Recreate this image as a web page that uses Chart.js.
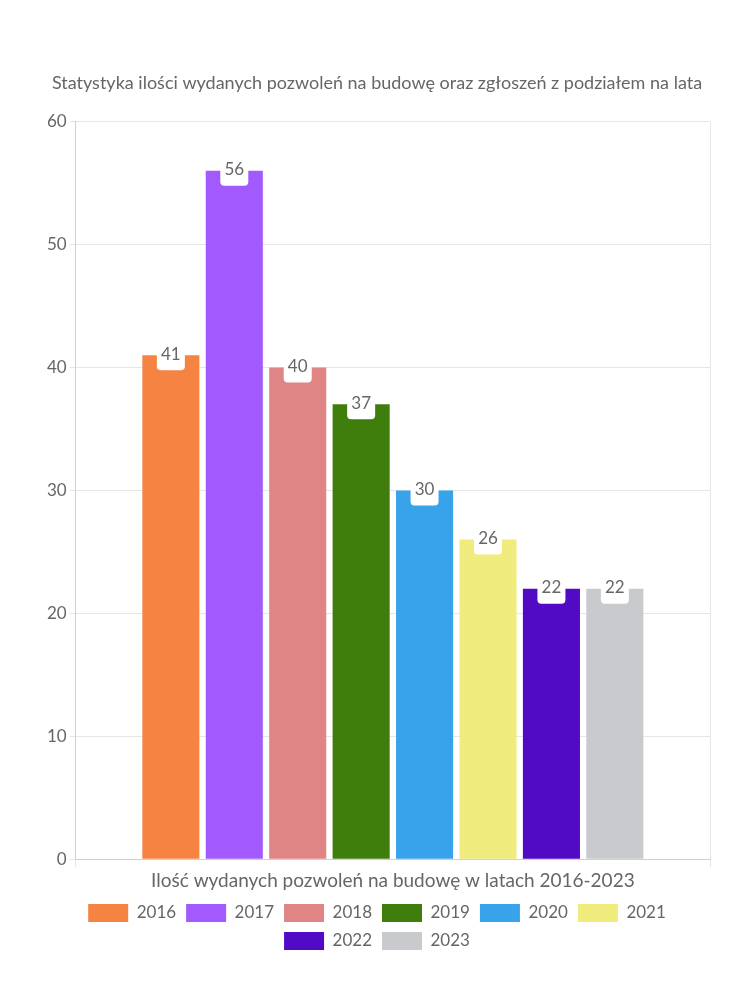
<!DOCTYPE html>
<html>
<head>
<meta charset="utf-8">
<script src="https://cdn.jsdelivr.net/npm/chart.js@4/dist/chart.umd.min.js"></script>
<style>
  html, body { margin: 0; padding: 0; background: #fff; }
  #wrap { width: 750px; height: 1000px; }
</style>
</head>
<body>
<div id="wrap"><canvas id="permitsChart"></canvas></div>
<script>
// Data
const categories = ['Ilość wydanych pozwoleń na budowę w latach 2016-2023'];
const years = ['2016', '2017', '2018', '2019', '2020', '2021', '2022', '2023'];
const permits = [41, 56, 40, 37, 30, 26, 22, 22];
const barColors = ['#f58442', '#a259fe', '#e08585', '#3f7d0c', '#38a3eb', '#f0eb7d', '#510bc4', '#c9cacd'];

const FONT = 'Lato, "Noto Sans", sans-serif';
const GREY = '#666';

// Small plugin drawing the value in a white rounded tab at the bar top
const valueTabs = {
    id: 'valueTabs',
    afterDatasetsDraw(chart) {
        const ctx = chart.ctx;
        ctx.save();
        chart.data.datasets.forEach((ds, i) => {
            const meta = chart.getDatasetMeta(i);
            meta.data.forEach((bar, j) => {
                const w = 28, top = bar.y - 18, h = 33;
                ctx.fillStyle = '#fff';
                ctx.beginPath();
                ctx.roundRect(bar.x - w / 2, top, w, h, 4);
                ctx.fill();
                ctx.fillStyle = GREY;
                ctx.font = '17px ' + FONT;
                ctx.textAlign = 'center';
                ctx.textBaseline = 'middle';
                ctx.fillText(String(ds.data[j]), bar.x, bar.y - 1);
            });
        });
        ctx.restore();
    }
};

const ctx = document.getElementById('permitsChart').getContext('2d');
const chart = new Chart(ctx, {
    type: 'bar',
    data: {
        labels: categories,
        datasets: years.map((y, i) => ({
            label: y,
            data: [permits[i]],
            backgroundColor: barColors[i],
            borderWidth: 0
        }))
    },
    options: {
        responsive: true,
        maintainAspectRatio: false,
        animation: false,
        layout: { padding: { top: 62, left: 44, right: 40, bottom: 40 } },
        plugins: {
            title: {
                display: true,
                text: 'Statystyka ilości wydanych pozwoleń na budowę oraz zgłoszeń z podziałem na lata',
                color: GREY,
                font: { family: FONT, size: 18, weight: 'normal' },
                padding: { top: 10, bottom: 28 }
            },
            legend: {
                position: 'bottom',
                labels: {
                    color: GREY,
                    font: { family: FONT, size: 17 },
                    boxWidth: 40,
                    boxHeight: 18,
                    padding: 10
                }
            },
            tooltip: { enabled: false }
        },
        scales: {
            x: {
                grid: { color: '#e6e6e6', tickLength: 8 },
                border: { color: '#d0d0d0' },
                ticks: { color: GREY, padding: 2, font: { family: FONT, size: 19 } }
            },
            y: {
                min: 0,
                max: 60,
                ticks: { stepSize: 10, color: GREY, font: { family: FONT, size: 17 } },
                grid: { color: '#e6e6e6', tickLength: 6 },
                border: { color: '#d0d0d0' }
            }
        }
    },
    plugins: [valueTabs]
});
</script>
</body>
</html>
